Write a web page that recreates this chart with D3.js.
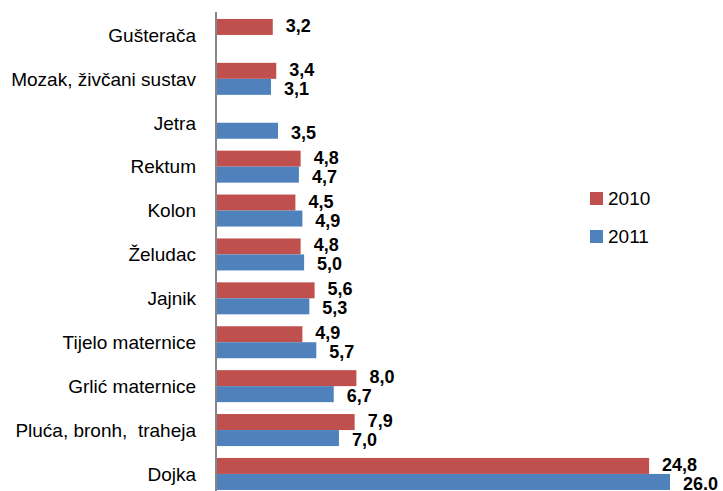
<!DOCTYPE html>
<html>
<head>
<meta charset="utf-8">
<script src="https://cdn.jsdelivr.net/npm/d3@7"></script>
<style>
  body { margin: 0; background: #fff; }
  text { font-family: "Liberation Sans", Arial, sans-serif; }
</style>
</head>
<body>
<div class="chart"></div>
<script>
// categories, top to bottom
var categories = ["Gušterača", "Mozak, živčani sustav", "Jetra", "Rektum", "Kolon",
  "Želudac", "Jajnik", "Tijelo maternice", "Grlić maternice", "Pluća, bronh,  traheja", "Dojka"];
var years = ["2010", "2011"];
var values2010 = [3.2, 3.4, null, 4.8, 4.5, 4.8, 5.6, 4.9, 8.0, 7.9, 24.8];
var values2011 = [null, 3.1, 3.5, 4.7, 4.9, 5.0, 5.3, 5.7, 6.7, 7.0, 26.0];
var labels2010 = ["3,2", "3,4", "", "4,8", "4,5", "4,8", "5,6", "4,9", "8,0", "7,9", "24,8"];
var labels2011 = ["", "3,1", "3,5", "4,7", "4,9", "5,0", "5,3", "5,7", "6,7", "7,0", "26.0"];
var colors = ["#C0504D", "#4F81BD"];

var width = 723, height = 491;

var svg = d3.select(".chart").append("svg")
  .attr("width", width)
  .attr("height", height);

var x = d3.scaleLinear()
  .domain([0, 26])
  .range([217, 670]);

var y = d3.scaleBand()
  .domain(categories)
  .range([13, 13 + 11 * 43.9])
  .paddingInner(0.271)
  .paddingOuter(0.1355);

var ySub = d3.scaleBand()
  .domain(years)
  .range([0, y.bandwidth()]);

var rows = [];
categories.forEach(function (c, i) {
  rows.push({cat: c, year: "2010", v: values2010[i], label: labels2010[i], k: 0});
  rows.push({cat: c, year: "2011", v: values2011[i], label: labels2011[i], k: 1});
});
var present = rows.filter(function (d) { return d.v != null; });

// bars
svg.selectAll("rect.bar")
  .data(present)
  .enter()
  .append("rect")
  .attr("class", "bar")
  .attr("x", x(0))
  .attr("y", function (d) { return y(d.cat) + ySub(d.year); })
  .attr("width", function (d) { return x(d.v) - x(0); })
  .attr("height", ySub.bandwidth())
  .attr("fill", function (d) { return colors[d.k]; });

// value labels
svg.selectAll("text.val")
  .data(present)
  .enter()
  .append("text")
  .attr("class", "val")
  .attr("x", function (d) { return x(d.v) + 13; })
  .attr("y", function (d) {
    return y(d.cat) + ySub(d.year) + ySub.bandwidth() / 2 + (d.k === 0 ? -1.5 : 1.5);
  })
  .attr("dy", "0.36em")
  .attr("font-size", "18px")
  .attr("font-weight", "bold")
  .attr("fill", "#000")
  .text(function (d) { return d.label; });

// vertical axis line
svg.append("line")
  .attr("x1", x(0) - 1).attr("x2", x(0) - 1)
  .attr("y1", 12).attr("y2", height)
  .attr("stroke", "#868686")
  .attr("stroke-width", 2);

// category labels
svg.selectAll("text.cat")
  .data(categories)
  .enter()
  .append("text")
  .attr("class", "cat")
  .attr("x", 196)
  .attr("y", function (d) { return y(d) + y.bandwidth() / 2; })
  .attr("dy", "0.36em")
  .attr("text-anchor", "end")
  .attr("font-size", "19px")
  .attr("fill", "#000")
  .style("white-space", "pre")
  .text(function (d) { return d; });

// legend
var legend = svg.selectAll("g.legend")
  .data(years)
  .enter()
  .append("g")
  .attr("class", "legend")
  .attr("transform", function (d, i) { return "translate(590," + (192 + i * 38) + ")"; });

legend.append("rect")
  .attr("width", 13)
  .attr("height", 13)
  .attr("fill", function (d, i) { return colors[i]; });

legend.append("text")
  .attr("x", 18)
  .attr("y", 6.5)
  .attr("dy", "0.36em")
  .attr("font-size", "19px")
  .attr("fill", "#000")
  .text(function (d) { return d; });
</script>
</body>
</html>
